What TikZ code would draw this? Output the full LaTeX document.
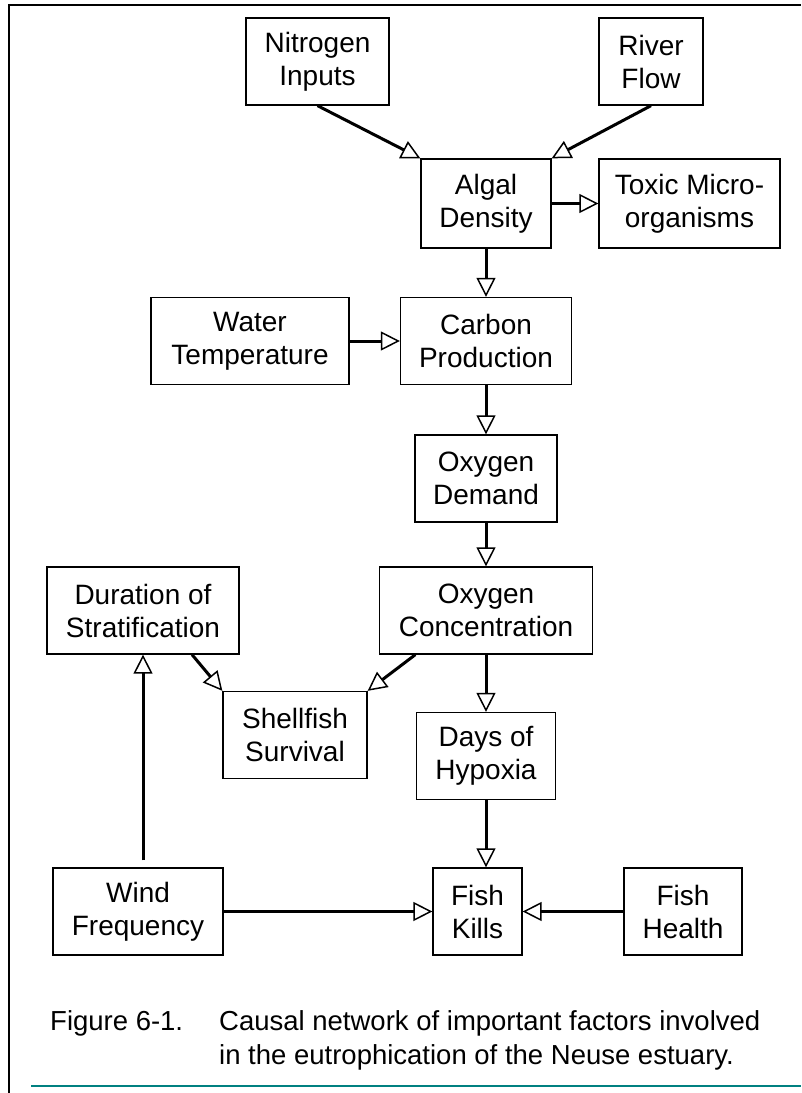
\documentclass[tikz,border=0pt]{standalone}
\usepackage{fontspec}
\setmainfont{Liberation Sans}
\usetikzlibrary{arrows.meta}
\definecolor{rulecol}{RGB}{0,128,128}
\begin{document}
\begin{tikzpicture}[x=1pt,y=-1pt,
                    factor/.style={draw,line width=1.3pt,inner sep=0pt,minimum height=87pt,align=center,font=\fontsize{28}{33}\selectfont},
                    link/.style={line width=3pt,-{Triangle[open,length=19pt,width=19pt,line width=1.5pt]}},
                    caption/.style={anchor=base west,inner sep=0pt,font=\fontsize{27.5}{34}\selectfont}]
                    \useasboundingbox (0,0) rectangle (801,1093);
                    \draw[line width=1.5pt] (9,1093) -- (9,5) -- (801,5);
                    \node (nitro) at (317.5,61.5) [factor,minimum width=143pt] {Nitrogen\\Inputs};
                    \node (river) at (651,61.5) [factor,minimum width=104pt] {River\\Flow};
                    \node (algal) at (486,203.5) [factor,minimum width=130pt,minimum height=89pt] {Algal\\Density};
                    \node (toxic) at (689.5,203.5) [factor,minimum width=181pt,minimum height=89pt] {Toxic Micro-\\organisms};
                    \node (water) at (250,341) [factor,minimum width=198pt] {Water\\Temperature};
                    \node (carbon) at (486,341) [factor,minimum width=171pt] {Carbon\\Production};
                    \node (demand) at (486,478.5) [factor,minimum width=142pt] {Oxygen\\Demand};
                    \node (conc) at (486,610.5) [factor,minimum width=213pt] {Oxygen\\Concentration};
                    \node (strat) at (143,610.5) [factor,minimum width=192pt] {Duration of\\Stratification};
                    \node (shell) at (295,735) [factor,minimum width=144pt] {Shellfish\\Survival};
                    \node (hypox) at (486,756) [factor,minimum width=139pt] {Days of\\Hypoxia};
                    \node (wind) at (138,911.5) [factor,minimum width=170pt] {Wind\\Frequency};
                    \node (kills) at (477.5,911.5) [factor,minimum width=89pt] {Fish\\Kills};
                    \node (health) at (683,911.5) [factor,minimum width=118pt] {Fish\\Health};
                    \draw[link] (nitro.south) -- (algal.north west);
                    \draw[link] (river.south) -- (algal.north east);
                    \draw[link] (algal.east) -- (toxic.west);
                    \draw[link] (algal.south) -- (carbon.north);
                    \draw[link] (water.east) -- (carbon.west);
                    \draw[link] (carbon.south) -- (demand.north);
                    \draw[link] (demand.south) -- (conc.north);
                    \draw[link] (conc.south) -- (hypox.north);
                    \draw[link] (conc.-148) -- (shell.north east);
                    \draw[link] (strat.-42) -- (shell.north west);
                    \draw[link] (hypox.south) -- (hypox.south |- kills.north);
                    \draw[link,shorten <=7pt] (strat.south |- wind.north) -- (strat.south);
                    \draw[link] (wind.east) -- (kills.west);
                    \draw[link] (health.west) -- (kills.east);
                    \node (fig) at (50,1030) [caption] {Figure 6-1.};
                    \node (capa) at (219,1030) [caption] {Causal network of important factors involved};
                    \node (capb) at (219,1064) [caption] {in the eutrophication of the Neuse estuary.};
                    \draw[rulecol,line width=2.5pt] (31,1086) -- (801,1086);
                \end{tikzpicture}
\end{document}
